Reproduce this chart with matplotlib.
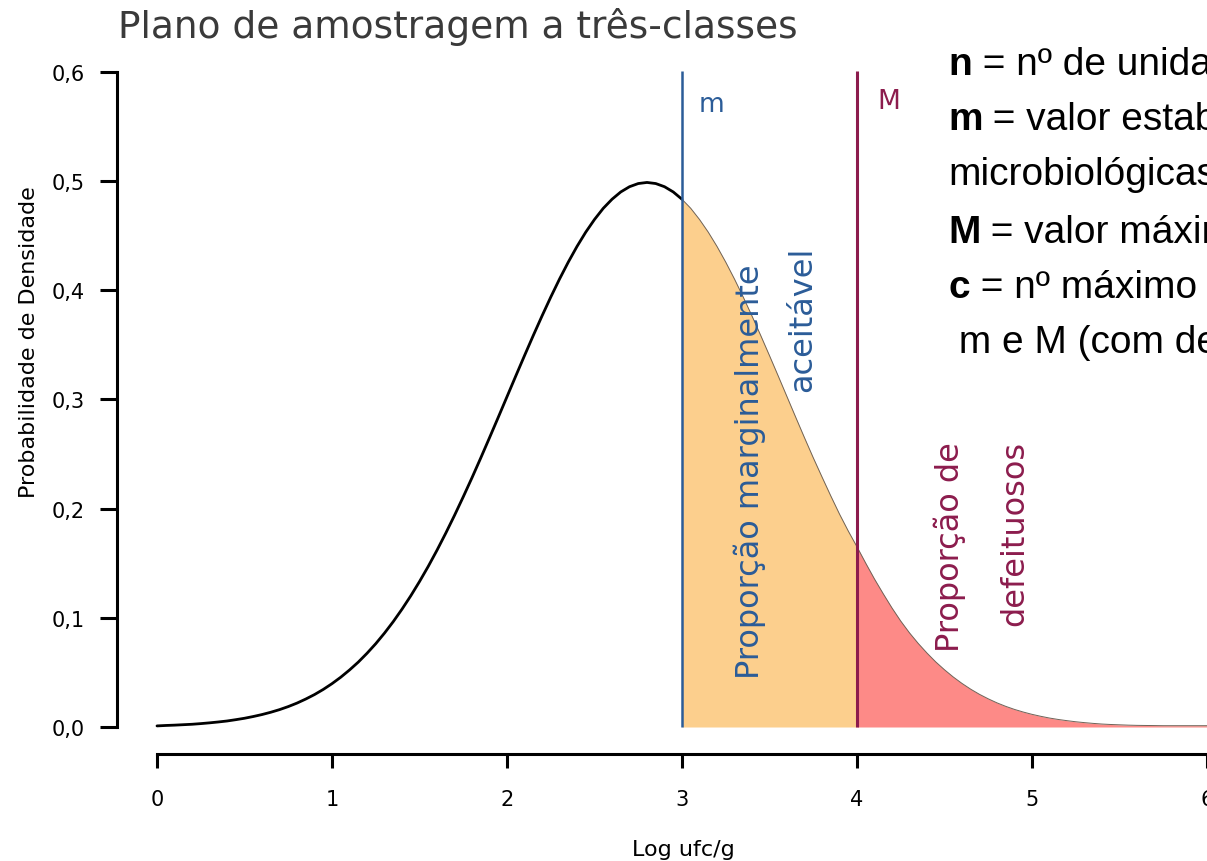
import numpy as np
import matplotlib
matplotlib.use("Agg")
import matplotlib.pyplot as plt

# curva de densidade (log ufc/g em passos de 0,05)
log_ufc = [round(0.05 * i, 2) for i in range(125)]
densidade = [
    0.0010, 0.0014, 0.0017, 0.0021, 0.0025, 0.0031, 0.0038, 0.0046, 0.0055, 0.0067,
    0.0080, 0.0096, 0.0114, 0.0135, 0.0159, 0.0187, 0.0219, 0.0256, 0.0297, 0.0344,
    0.0397, 0.0456, 0.0522, 0.0594, 0.0675, 0.0763, 0.0860, 0.0965, 0.1079, 0.1201,
    0.1332, 0.1471, 0.1619, 0.1775, 0.1938, 0.2108, 0.2283, 0.2464, 0.2649, 0.2836,
    0.3025, 0.3214, 0.3401, 0.3585, 0.3764, 0.3937, 0.4102, 0.4257, 0.4401, 0.4532,
    0.4648, 0.4750, 0.4833, 0.4900, 0.4948, 0.4977, 0.4987, 0.4977, 0.4948, 0.4900,
    0.4833, 0.4750, 0.4648, 0.4532, 0.4401, 0.4257, 0.4102, 0.3937, 0.3764, 0.3585,
    0.3401, 0.3214, 0.3025, 0.2836, 0.2649, 0.2466, 0.2290, 0.2117, 0.1950, 0.1795,
    0.1650, 0.1500, 0.1355, 0.1220, 0.1090, 0.0970, 0.0862, 0.0765, 0.0677, 0.0596,
    0.0524, 0.0458, 0.0399, 0.0346, 0.0299, 0.0258, 0.0221, 0.0189, 0.0161, 0.0137,
    0.0116, 0.0098, 0.0082, 0.0069, 0.0058, 0.0048, 0.0040, 0.0033, 0.0027, 0.0023,
    0.0020, 0.0017, 0.0015, 0.0014, 0.0013, 0.0012, 0.0012, 0.0012, 0.0012, 0.0012,
    0.0012, 0.0012, 0.0012, 0.0012, 0.0012,
]
limite_m = 3
limite_M = 4

x_ticks = [0, 1, 2, 3, 4, 5, 6]
y_ticks = [0.0, 0.1, 0.2, 0.3, 0.4, 0.5, 0.6]
y_tick_labels = ["0,0", "0,1", "0,2", "0,3", "0,4", "0,5", "0,6"]

legenda_negrito = ["n", "m", "", "M", "c", ""]
legenda_texto = [" = nº de unida", " = valor estab", "microbiológicas",
                 " = valor máxim", " = nº máximo", " m e M (com de"]

azul = "#2b5c98"
vinho = "#8c1c4d"
laranja = "#fccf8d"
vermelho = "#fd8a87"

W, H = 1207, 862
fig = plt.figure(figsize=(W / 100, H / 100), dpi=100)
ax = fig.add_axes([117 / W, 107 / H, 1125 / W, 704 / H])

x = np.array(log_ufc)
d = np.array(densidade)

zona_m = (x >= limite_m - 1e-9) & (x <= limite_M + 1e-9)
zona_M = x >= limite_M - 1e-9
ax.fill_between(x[zona_m], d[zona_m], 0, color=laranja, lw=0)
ax.fill_between(x[zona_M], d[zona_M], 0, color=vermelho, lw=0)

antes = x <= limite_m + 1e-9
ax.plot(x[antes], d[antes], color="black", lw=2.0, solid_capstyle="round")
ax.plot(x[zona_m | zona_M], d[zona_m | zona_M], color="#6e6257", lw=0.7)

ax.vlines(limite_m, 0, 0.601, color=azul, lw=1.8)
ax.vlines(limite_M, 0, 0.601, color=vinho, lw=2.2)

ax.text(3.166, 0.571, "m", color=azul, fontsize=19, ha="center", va="center")
ax.text(4.18, 0.573, "M", color=vinho, fontsize=19, ha="center", va="center")

ax.text(3.389, 0.235, "Proporção marginalmente", color=azul, fontsize=23,
        rotation=90, ha="center", va="center")
ax.text(3.691, 0.374, "aceitável", color=azul, fontsize=23,
        rotation=90, ha="center", va="center")
ax.text(4.531, 0.166, "Proporção de", color=vinho, fontsize=23,
        rotation=90, ha="center", va="center")
ax.text(4.903, 0.178, "defeituosos", color=vinho, fontsize=23,
        rotation=90, ha="center", va="center")

ax.set_xlim(-40 / 175, 6.2)
ax.set_ylim(-27 / 1092, 0.62)
for lado in ["top", "right"]:
    ax.spines[lado].set_visible(False)
ax.spines["left"].set_bounds(0, 0.6)
ax.spines["bottom"].set_bounds(0, 6.2)
ax.spines["left"].set_linewidth(2.2)
ax.spines["bottom"].set_linewidth(2.2)

ax.set_xticks(x_ticks)
ax.set_yticks(y_ticks)
ax.set_yticklabels(y_tick_labels)
ax.tick_params(axis="y", direction="out", length=12, width=2.2, pad=11,
               labelsize=15)
ax.tick_params(axis="x", direction="out", length=10, width=2.2, pad=15,
               labelsize=15)

fig.text(118 / W, 1 - 8 / H, "Plano de amostragem a três-classes",
         fontsize=27, color="#3a3a3a", ha="left", va="top")
fig.text(683 / W, 1 - 850 / H, "Log ufc/g", fontsize=16,
         ha="center", va="center")
fig.text(29 / W, 1 - 342 / H, "Probabilidade de Densidade", fontsize=16,
         rotation=90, ha="center", va="center")

# bloco de definições à direita
fonte_bloco = ["Liberation Sans", "DejaVu Sans"]
renderer = fig.canvas.get_renderer()
linhas_y = [75, 130, 185, 243, 298, 353]
for negrito, texto, py in zip(legenda_negrito, legenda_texto, linhas_y):
    x0 = 948
    if negrito:
        t = fig.text(x0 / W, 1 - py / H, negrito, fontsize=28,
                     fontweight="bold", family=fonte_bloco, va="baseline")
        x0 = t.get_window_extent(renderer).x1
    fig.text(x0 / W, 1 - py / H, texto, fontsize=28, family=fonte_bloco,
             va="baseline")

fig.savefig("out.png", dpi=100)
plt.close(fig)
